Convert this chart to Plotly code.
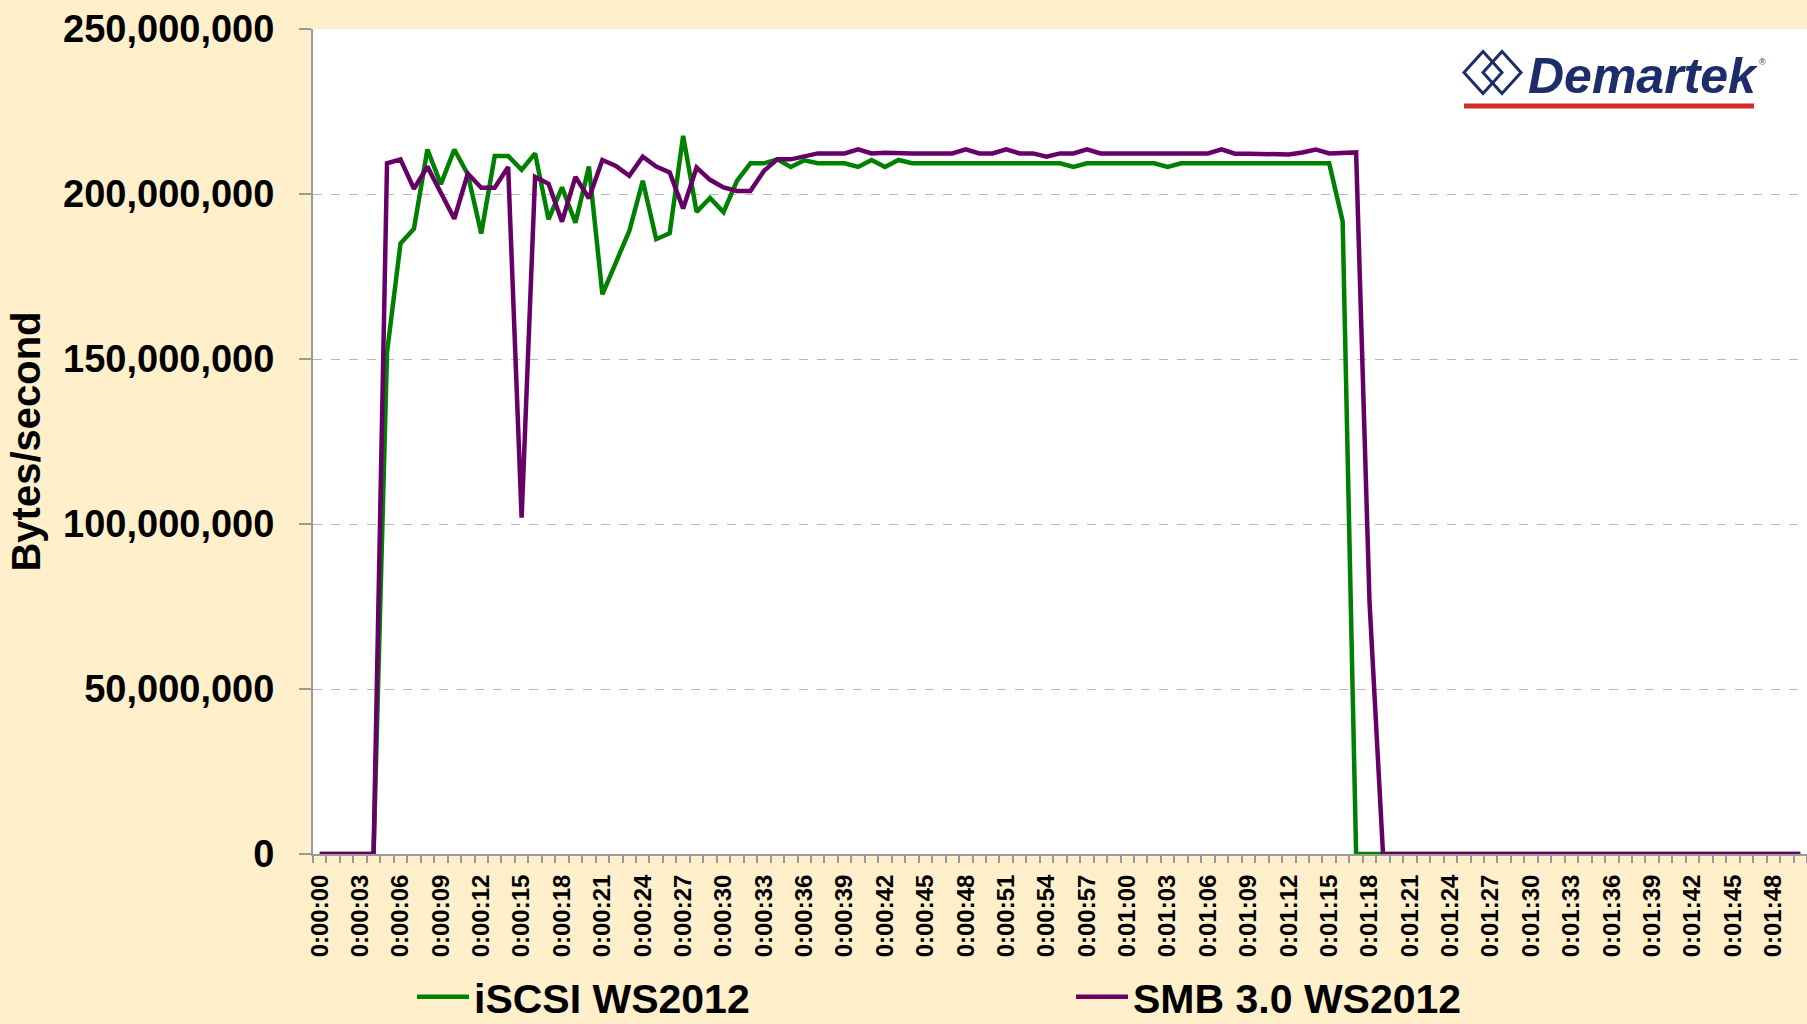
import plotly.graph_objects as go

# ---------------- data ----------------
seconds = list(range(111))
time_labels = [f"{s // 3600}:{(s // 60) % 60:02d}:{s % 60:02d}" for s in seconds]

# throughput in millions of bytes/second, one value per second (0:00:00 .. 0:01:50)
iscsi_mb = [
    0, 0, 0, 0, 0, 152, 185, 189.5, 213.5, 203,
    213.5, 206, 188, 211.5, 211.5, 207.3, 212.3, 192.3, 202, 191.3,
    208.3, 169.6, 179.2, 188.8, 204, 186.3, 188.1, 217.6, 194.6, 198.8,
    194.5, 204, 209.3, 209.3, 210.5, 208.2, 210.2, 209.3, 209.3, 209.3,
    208.2, 210.3, 208.2, 210.3, 209.3, 209.3, 209.3, 209.3, 209.3, 209.3,
    209.3, 209.3, 209.3, 209.3, 209.3, 209.3, 208.2, 209.3, 209.3, 209.3,
    209.3, 209.3, 209.3, 208.2, 209.3, 209.3, 209.3, 209.3, 209.3, 209.3,
    209.3, 209.3, 209.3, 209.3, 209.3, 209.3, 191.7, 0, 0, 0,
    0, 0, 0, 0, 0, 0, 0, 0, 0, 0,
    0, 0, 0, 0, 0, 0, 0, 0, 0, 0,
    0, 0, 0, 0, 0, 0, 0, 0, 0, 0,
    0,
]
smb_mb = [
    0, 0, 0, 0, 0, 209.3, 210.5, 201.6, 208.3, 200.4,
    192.5, 206.2, 201.9, 201.9, 208.2, 101.9, 205.2, 203.1, 191.6, 205.2,
    198.7, 210.3, 208.5, 205.5, 211.3, 208.3, 206.5, 195.6, 208, 204.3,
    202, 200.9, 200.9, 207, 210.5, 210.5, 211.5, 212.3, 212.3, 212.3,
    213.5, 212.3, 212.5, 212.3, 212.3, 212.3, 212.3, 212.3, 213.5, 212.3,
    212.3, 213.5, 212.3, 212.3, 211.3, 212.3, 212.3, 213.5, 212.3, 212.3,
    212.3, 212.3, 212.3, 212.3, 212.3, 212.3, 212.3, 213.5, 212.2, 212.2,
    212.2, 212.2, 212, 212.6, 213.5, 212.3, 212.6, 212.6, 76, 0,
    0, 0, 0, 0, 0, 0, 0, 0, 0, 0,
    0, 0, 0, 0, 0, 0, 0, 0, 0, 0,
    0, 0, 0, 0, 0, 0, 0, 0, 0, 0,
    0,
]
series_names = ["iSCSI WS2012", "SMB 3.0 WS2012"]
tick_positions = seconds[::3]
tick_text = time_labels[::3]
y_ticks = [0, 50_000_000, 100_000_000, 150_000_000, 200_000_000, 250_000_000]

# ---------------- layout geometry (pixels) ----------------
W, H = 1807, 1024
L, R, T, B = 313, 0, 29, 170
PW, PH = W - L - R, H - T - B


def px(x):
    return (x - L) / PW


def py(y):
    return (H - B - y) / PH


FONT = "Liberation Sans, Arial, sans-serif"
GREEN = "#008000"
PURPLE = "#660066"
AXIS = "#9a9a9a"
NAVY = "#1d2d69"

fig = go.Figure()
fig.add_trace(go.Scatter(
    x=seconds, y=[v * 1e6 for v in iscsi_mb], mode="lines", name=series_names[0],
    line=dict(color=GREEN, width=4.5), legend="legend",
))
fig.add_trace(go.Scatter(
    x=seconds, y=[v * 1e6 for v in smb_mb], mode="lines", name=series_names[1],
    line=dict(color=PURPLE, width=4.5), legend="legend2",
))

legend_common = dict(
    orientation="h", xanchor="left", yanchor="middle", bgcolor="rgba(0,0,0,0)",
    itemwidth=52,
    font=dict(family=FONT, size=41, color="black", weight="bold"),
)

fig.update_layout(
    template="none",
    width=W, height=H,
    margin=dict(l=L, r=R, t=T, b=B, pad=0, autoexpand=False),
    paper_bgcolor="#fff0cb",
    plot_bgcolor="white",
    font=dict(family=FONT, color="black"),
    showlegend=True,
    legend=dict(x=px(412), y=py(997), **legend_common),
    legend2=dict(x=px(1071), y=py(997), **legend_common),
    xaxis=dict(
        range=[-0.5, 110.5], tickmode="array", tickvals=tick_positions, ticktext=tick_text,
        tickangle=-90, ticks="", showgrid=False, zeroline=False, automargin=False,
        showline=True, linecolor=AXIS, linewidth=2,
        tickfont=dict(family=FONT, size=24, color="black", weight="bold"),
        ticklabelstandoff=9,
        minor=dict(tickmode="array", tickvals=[s - 0.5 for s in seconds] + [110.5],
                   ticks="outside", ticklen=7, tickwidth=1.5, tickcolor=AXIS, showgrid=False),
    ),
    yaxis=dict(
        range=[0, 250_000_000], tickmode="array", tickvals=y_ticks, tickformat=",d",
        ticks="outside", ticklen=12, tickwidth=1.5, tickcolor=AXIS, automargin=False,
        showgrid=True, gridcolor="#b8b8b8", griddash="dash", gridwidth=1.3,
        zeroline=False, showline=True, linecolor=AXIS, linewidth=2,
        tickfont=dict(family=FONT, size=38, color="black", weight="bold"),
        ticklabelstandoff=17,
        title=dict(text="Bytes/second", standoff=10,
                   font=dict(family=FONT, size=40, color="black", weight="bold")),
    ),
)

# ---------------- Demartek logo ----------------
shapes = []
for cx in (1483, 1502):
    cy, hw, hh = 72.5, 19, 21
    path = (f"M {px(cx - hw)},{py(cy)} L {px(cx)},{py(cy - hh)} "
            f"L {px(cx + hw)},{py(cy)} L {px(cx)},{py(cy + hh)} Z")
    shapes.append(dict(type="path", xref="paper", yref="paper", path=path,
                       line=dict(color=NAVY, width=3)))
shapes.append(dict(type="line", xref="paper", yref="paper",
                   x0=px(1464), x1=px(1754), y0=py(106), y1=py(106),
                   line=dict(color="#cf3029", width=5)))
fig.update_layout(shapes=shapes)
fig.add_annotation(
    xref="paper", yref="paper", x=px(1526), y=py(76), xanchor="left", yanchor="middle",
    text="<b><i>Demartek</i></b>", showarrow=False,
    font=dict(family=FONT, size=50, color=NAVY),
)
fig.add_annotation(
    xref="paper", yref="paper", x=px(1762), y=py(62), xanchor="center", yanchor="middle",
    text="®", showarrow=False, font=dict(family=FONT, size=9, color=NAVY),
)

fig.write_html("out.html", config={"displayModeBar": False},
               post_script="document.body.style.margin='0';")
